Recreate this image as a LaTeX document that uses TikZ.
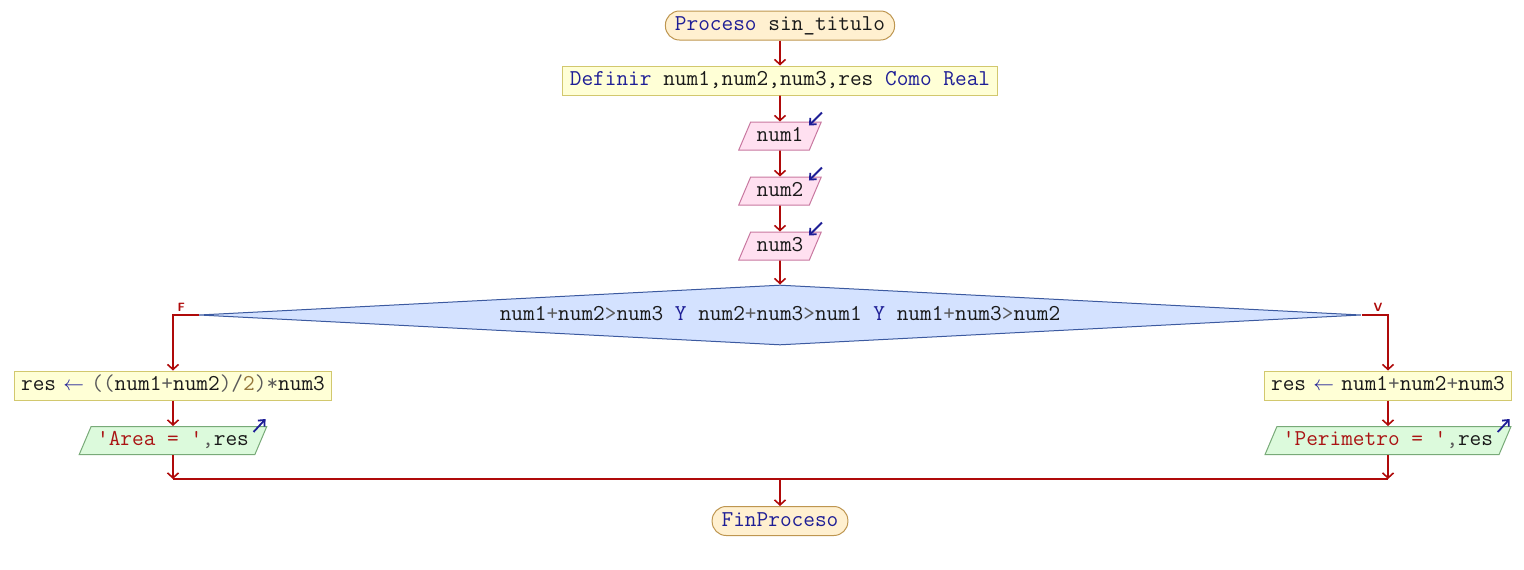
\documentclass[tikz,border=0pt]{standalone}
\usepackage{fontspec}
\usepackage{tikz}
\usetikzlibrary{arrows,arrows.meta,shapes}
\usepackage{xcolor}

\definecolor{flowred}{RGB}{175,10,10}
\definecolor{kwblue}{RGB}{30,30,150}
\definecolor{strred}{RGB}{170,20,20}
\definecolor{numbrown}{RGB}{150,120,60}
\definecolor{opgray}{RGB}{90,90,90}
\definecolor{txtdark}{RGB}{25,25,25}
\definecolor{termfill}{RGB}{255,240,208}
\definecolor{termline}{RGB}{190,150,80}
\definecolor{procfill}{RGB}{255,255,214}
\definecolor{procline}{RGB}{210,200,110}
\definecolor{infill}{RGB}{255,224,240}
\definecolor{inline}{RGB}{200,120,160}
\definecolor{outfill}{RGB}{220,250,220}
\definecolor{outline}{RGB}{120,170,120}
\definecolor{condfill}{RGB}{212,226,255}
\definecolor{condline}{RGB}{60,90,160}

\newcommand{\kw}[1]{\textcolor{kwblue}{#1}}
\newcommand{\strg}[1]{\textcolor{strred}{#1}}
\newcommand{\nmb}[1]{\textcolor{numbrown}{#1}}
\newcommand{\op}[1]{\textcolor{opgray}{#1}}
\newcommand{\qt}{\textquotesingle}
\newcommand{\asg}{\makebox[11.9pt]{\textcolor{kwblue}{$\leftarrow$}}}

\begin{document}
\begin{tikzpicture}[x=1pt,y=-1pt,
        every node/.style={font=\ttfamily\fontsize{22.67}{24}\selectfont, text=txtdark, text height=15pt, text depth=5pt, line width=1pt},
        term/.style={draw=termline, fill=termfill, rounded corners=14pt, inner xsep=9.5pt, inner ysep=4.5pt},
        proc/.style={draw=procline, fill=procfill, inner xsep=7pt, inner ysep=4.5pt},
        inp/.style={trapezium, trapezium left angle=67, trapezium right angle=113, draw=inline, fill=infill, inner xsep=6pt, inner ysep=4pt},
        outp/.style={inp, draw=outline, fill=outfill},
        cond/.style={diamond, aspect=19.4, draw=condline, fill=condfill, minimum width=1162pt, minimum height=60pt, inner sep=0pt},
        flow/.style={-{Straight Barb[length=5pt,width=11pt]}, draw=flowred, line width=1.6pt},
        line/.style={draw=flowred, line width=1.6pt},
        icon/.style={-{Straight Barb[length=5pt,width=9pt]}, draw=kwblue, line width=1.8pt},
        lbl/.style={font=\sffamily\bfseries\fontsize{12}{12}\selectfont, text=flowred, inner sep=1pt, text height=, text depth=}]
        \useasboundingbox (0,0) rectangle (1524,570);

        \node[term] (start) at (780,25.5) {\kw{Proceso} sin\_titulo};
        \node[proc] (dfn) at (780,80.5) {\kw{Definir} num1,num2,num3,res \kw{Como} \kw{Real}};
        \node[inp] (in1) at (780,136) {num1};
        \node[inp] (in2) at (780,191) {num2};
        \node[inp] (in3) at (780,246) {num3};
        \node[cond] (chk) at (780,315) {num1\op{+}num2\op{>}num3 \kw{Y} num2\op{+}num3\op{>}num1 \kw{Y} num1\op{+}num3\op{>}num2};

        \node[proc] (asgL) at (173,385.5) {res \asg{} \op{((}num1\op{+}num2\op{)/}\nmb{2}\op{)*}num3};
        \node[outp] (outL) at (173,440.5) {\strg{\qt Area = \qt}\op{,}res};
        \node[proc] (asgR) at (1388,385.5) {res \asg{} num1\op{+}num2\op{+}num3};
        \node[outp] (outR) at (1388,440.5) {\strg{\qt Perimetro = \qt}\op{,}res};

        \coordinate (mrg) at (780,479);
        \node[term] (fin) at (780,521) {\kw{FinProceso}};

        \draw[flow] (start) -- (dfn);
        \draw[flow] (dfn) -- (in1);
        \draw[flow] (in1) -- (in2);
        \draw[flow] (in2) -- (in3);
        \draw[flow] (in3) -- (chk);

        \draw[flow] (chk.west) -| node[pos=0.5, lbl, anchor=south west, xshift=3pt, yshift=2pt] {F} (asgL.north);
        \draw[flow] (chk.east) -| node[pos=0.5, lbl, anchor=south east, xshift=-4pt, yshift=2pt] {V} (asgR.north);
        \draw[flow] (asgL) -- (outL);
        \draw[flow] (asgR) -- (outR);

        \draw[flow] (outL.south) -- (outL.south |- mrg);
        \draw[flow] (outR.south) -- (outR.south |- mrg);
        \draw[line] (outL.south |- mrg) -- (outR.south |- mrg);
        \draw[flow] (mrg) -- (fin);

        \draw[icon] ([yshift=9pt]in1.top right corner) -- ++(-13,13);
        \draw[icon] ([yshift=9pt]in2.top right corner) -- ++(-13,13);
        \draw[icon] ([yshift=9pt]in3.top right corner) -- ++(-13,13);
        \draw[icon] ([xshift=-14pt,yshift=-6pt]outL.top right corner) -- ++(12,-13);
        \draw[icon] ([xshift=-14pt,yshift=-6pt]outR.top right corner) -- ++(12,-13);
\end{tikzpicture}
\end{document}
